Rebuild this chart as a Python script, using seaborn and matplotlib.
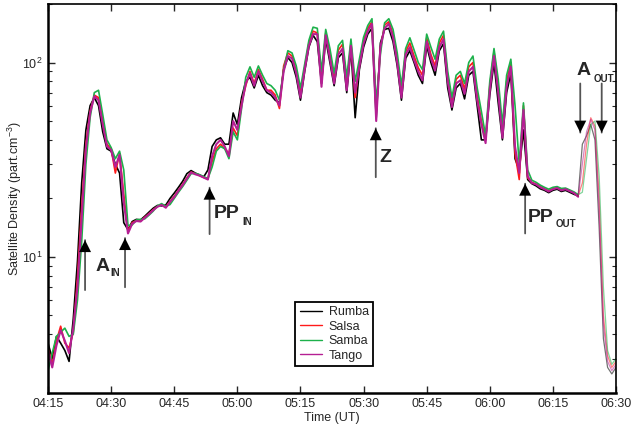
import numpy as np
import pandas as pd
import matplotlib
matplotlib.use("Agg")
import matplotlib.pyplot as plt
import matplotlib.dates as mdates
from matplotlib.ticker import LogLocator, NullFormatter
import seaborn as sns

# ---------------- data ----------------
minutes = list(range(136))  # minutes after 04:15 UT

rumba = [3.6, 3.0, 3.9, 3.6, 3.3, 2.9, 4.8, 9.5, 24, 45, 60, 66, 60, 44, 36, 35, 30, 27, 15, 13.8,
         15.2, 15.6, 15.5, 16.2, 17.0, 17.8, 18.4, 18.3, 18.5, 20.0, 21.3, 22.8, 24.5, 26.8, 27.8, 27.0,
         26.4, 25.8, 28, 37, 40, 41, 38, 38, 55, 48, 66, 80, 84, 74, 86, 76, 70, 68, 64, 62, 92, 106,
         100, 84, 64, 90, 120, 138, 128, 78, 132, 100, 76, 106, 112, 70, 118, 52, 92, 120, 140, 150,
         52, 126, 148, 150, 128, 96, 64, 105, 115, 100, 86, 78, 122, 100, 86, 115, 125, 74, 57, 74,
         78, 65, 86, 90, 60, 40, 40, 68, 100, 62, 40, 70, 88, 32, 28, 45, 25, 23.8, 23.2, 22.4, 22.0,
         21.4, 22.0, 22.3, 21.7, 22.0, 21.5, 21.0, 20.6, 38, 42, 48, 40, 14, 3.8, 2.7, 2.5, 2.7]

salsa = [3.4, 2.8, 3.7, 4.4, 3.6, 3.4, 4.1, 7.8, 18, 38, 56, 68, 66, 50, 38, 36, 27, 34, 21, 13.5,
         15.0, 15.4, 15.3, 16.0, 16.7, 17.5, 18.2, 18.6, 18.1, 19.3, 20.5, 22.0, 23.6, 25.5, 27.3, 26.8,
         26.2, 25.6, 25.2, 31, 36, 38, 36, 34, 46, 42, 62, 76, 90, 78, 92, 82, 72, 72, 68, 58, 96, 112,
         108, 90, 70, 94, 126, 145, 142, 80, 142, 110, 82, 116, 124, 76, 126, 66, 98, 130, 150, 162,
         56, 118, 156, 162, 140, 104, 70, 114, 126, 108, 94, 86, 134, 110, 96, 126, 138, 84, 62, 82,
         86, 73, 95, 100, 68, 50, 40, 76, 114, 74, 44, 80, 100, 34, 25, 60, 25.5, 24.2, 23.7, 23.0,
         22.4, 21.9, 22.4, 22.7, 22.2, 22.4, 21.9, 21.4, 20.6, 24, 38, 52, 47, 20, 5, 3.1, 2.7, 2.9]

samba = [2.6, 3.2, 3.9, 4.1, 4.3, 3.9, 4.0, 6.0, 12, 30, 52, 70, 72, 54, 40, 36.5, 32, 35, 28, 14.5,
         14.6, 15.5, 15.6, 15.7, 16.4, 17.2, 18.3, 18.8, 18.2, 18.6, 20.0, 21.5, 23.0, 24.8, 26.8, 26.9,
         26.5, 25.9, 25.3, 29, 35, 37, 36, 32, 44, 40, 58, 84, 95, 84, 96, 86, 78, 76, 72, 64, 92, 115,
         112, 96, 74, 98, 130, 152, 150, 90, 148, 118, 88, 122, 130, 84, 132, 80, 104, 135, 155, 168,
         62, 110, 160, 168, 148, 112, 76, 118, 134, 116, 100, 92, 140, 120, 104, 132, 145, 90, 66, 86,
         90, 78, 100, 108, 74, 56, 42, 80, 118, 82, 48, 86, 104, 60, 30, 62, 28, 24.8, 24.2, 23.4,
         22.8, 22.3, 22.8, 23.0, 22.5, 22.6, 22.1, 21.6, 20.9, 21.5, 32, 48, 50, 26, 7, 3.3, 2.8, 3.0]

tango = [3.3, 2.7, 3.5, 4.2, 3.7, 3.2, 4.3, 7.0, 16, 36, 55, 67, 64, 48, 37, 35.5, 29, 33.5, 19, 13.2,
         14.8, 15.3, 15.2, 15.9, 16.6, 17.4, 18.1, 18.5, 17.9, 19.2, 20.3, 21.9, 23.4, 25.3, 27.2, 26.6,
         26.2, 25.6, 25.0, 33, 38, 40, 37, 33, 50, 45, 60, 78, 88, 76, 90, 80, 72, 70, 66, 60, 90, 108,
         105, 88, 66, 92, 122, 140, 140, 75, 138, 105, 78, 110, 118, 72, 122, 70, 95, 125, 145, 158,
         50, 120, 150, 158, 135, 100, 66, 110, 120, 103, 90, 81, 128, 105, 91, 120, 132, 80, 59, 78,
         81, 69, 90, 95, 64, 48, 38.5, 72, 108, 70, 41, 75, 95, 37, 27, 57, 26, 24, 23.6, 22.8, 22.3,
         21.7, 22.3, 22.6, 22.0, 22.3, 21.8, 21.3, 20.4, 30, 44, 51, 45, 17, 4.5, 2.9, 2.6, 2.8]

satellites = ["Rumba", "Salsa", "Samba", "Tango"]
colors = ["#000000", "#ff1a1a", "#1db14b", "#b51f93"]

# event annotations: (minutes after 04:15, tail density, tip density)
arrows = [(8.8, 6.75, 12.2), (18.3, 6.98, 12.5), (38.4, 13.1, 22.7), (77.9, 25.7, 45.9),
          (113.4, 13.2, 23.8), (126.5, 78.0, 43.6), (131.6, 78.0, 43.6)]
# labels: (minutes, density, main text, sub minutes, sub density, subscript)
labels = [(11.4, 8.96, "A", 14.9, 8.3, "IN"),
          (39.3, 16.8, "PP", 46.1, 15.1, "IN"),
          (78.8, 32.6, "Z", None, None, ""),
          (114.0, 16.0, "PP", 120.7, 14.7, "OUT"),
          (125.7, 91.3, "A", 129.7, 82.7, "OUT")]
faint_from = 126  # minutes: the last passage is drawn faint in the original

# ---------------- style ----------------
sns.set_style("ticks")
plt.rcParams["font.family"] = ["Liberation Sans", "DejaVu Sans"]
plt.rcParams["mathtext.fontset"] = "custom"
plt.rcParams["mathtext.rm"] = "Liberation Sans"
plt.rcParams["mathtext.it"] = "Liberation Sans:italic"
plt.rcParams["mathtext.bf"] = "Liberation Sans:bold"

start = pd.Timestamp("2001-01-01 04:15")
times = start + pd.to_timedelta(minutes, unit="min")

df = pd.concat([pd.DataFrame({"time": times, "minute": minutes, "density": vals, "satellite": name})
                for name, vals in zip(satellites, [rumba, salsa, samba, tango])],
               ignore_index=True)
pal = dict(zip(satellites, colors))

fig = plt.figure(figsize=(6.32, 4.26), dpi=100)
ax = fig.add_axes([0.076, 0.078, 0.8987, 0.9126])

sns.lineplot(data=df[df["minute"] <= faint_from], x="time", y="density", hue="satellite",
             hue_order=satellites, palette=pal, estimator=None, linewidth=1.2, ax=ax)
data_lines = ax.get_lines()
if len(data_lines) >= 4:
    data_lines[3].set_linewidth(1.5)
sns.lineplot(data=df[df["minute"] >= faint_from], x="time", y="density", hue="satellite",
             hue_order=satellites, palette=pal, estimator=None, linewidth=0.9, alpha=0.55,
             ax=ax, legend=False)

ax.set_yscale("log")
ax.set_ylim(2, 200)
ax.set_xlim(start, start + pd.Timedelta(minutes=135))
ax.xaxis.set_major_locator(mdates.MinuteLocator(byminute=[0, 15, 30, 45]))
ax.xaxis.set_major_formatter(mdates.DateFormatter("%H:%M"))
ax.yaxis.set_major_locator(LogLocator(base=10, numticks=10))
ax.yaxis.set_minor_locator(LogLocator(base=10, subs=np.arange(2, 10), numticks=10))
ax.yaxis.set_minor_formatter(NullFormatter())

ax.tick_params(which="both", direction="in", top=True, right=True, labelsize=9, pad=4)
ax.tick_params(which="major", length=5, width=1.0)
ax.tick_params(which="minor", length=3, width=0.8)
for name, sp in ax.spines.items():
    sp.set_linewidth(1.8 if name in ("left", "bottom") else 1.2)
    sp.set_color("black")

ax.set_xlabel("Time (UT)", fontsize=9, labelpad=1)
ax.set_ylabel("Satellite Density (part.cm$^{-3}$)", fontsize=9)
ax.yaxis.set_label_coords(-0.043, 0.5)

# arrows
for t, ytail, ytip in arrows:
    x = mdates.date2num(start + pd.Timedelta(minutes=t))
    ax.annotate("", xy=(x, ytip), xytext=(x, ytail),
                arrowprops=dict(arrowstyle="-", color="#555555", lw=1.3, shrinkA=0, shrinkB=0))
    ax.annotate("", xy=(x, ytip), xytext=(x, ytail),
                arrowprops=dict(arrowstyle="-|>,head_length=0.86,head_width=0.43", mutation_scale=10,
                                fc="black", ec="black", lw=0.01, shrinkA=0, shrinkB=0))

for t, d, txt, ts, ds, sub in labels:
    x = mdates.date2num(start + pd.Timedelta(minutes=t))
    ax.text(x, d, txt, fontsize=14, fontweight="bold", ha="left", va="center")
    if sub:
        xs = mdates.date2num(start + pd.Timedelta(minutes=ts))
        ax.text(xs, ds, sub, fontsize=7, fontweight="bold", ha="left", va="center")

handles, labs = ax.get_legend_handles_labels()
leg = ax.legend(handles, labs, loc="lower center", bbox_to_anchor=(0.504, 0.053), fontsize=9,
                frameon=True, fancybox=False, framealpha=1, edgecolor="black",
                handlelength=1.8, handletextpad=0.5, borderpad=0.35, labelspacing=0.2)
leg.get_frame().set_linewidth(1.3)
for h in leg.get_lines():
    h.set_linewidth(1.0)

fig.savefig("out.png", dpi=100)
